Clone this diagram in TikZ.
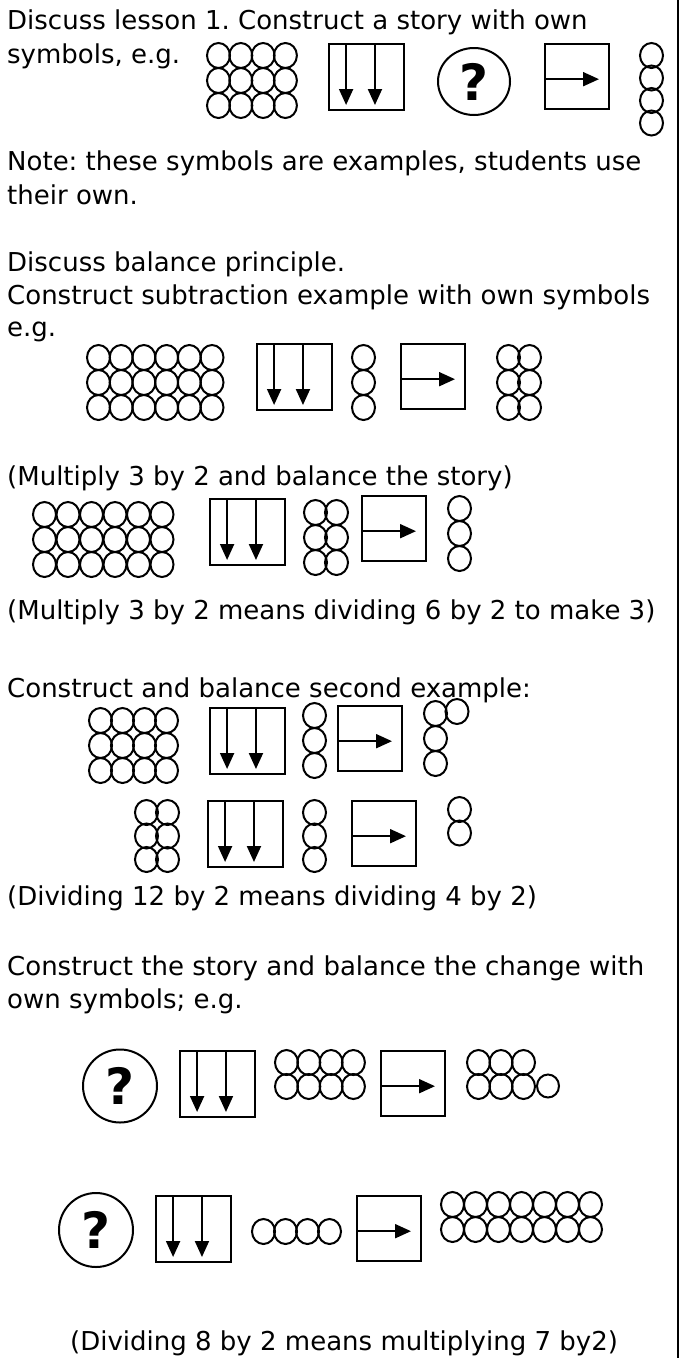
\documentclass[tikz,border=0pt]{standalone}
\usepackage{fontspec}
\setmainfont{DejaVu Sans}
\frenchspacing
\usetikzlibrary{arrows.meta,calc,shapes.geometric}
\tikzset{
  txt/.style={anchor=base west, inner sep=0pt, font=\fontsize{26}{31}\selectfont},
  bead/.style={line width=2pt},
  dbox/.style={draw, line width=2pt, minimum width=75pt, minimum height=66pt, inner sep=0pt, anchor=north west},
  rbox/.style={draw, line width=2pt, minimum width=64pt, minimum height=65pt, inner sep=0pt, anchor=north west},
  qmark/.style={draw, ellipse, line width=2pt, inner sep=0pt, font=\fontsize{50}{50}\selectfont\bfseries},
  arr/.style={line width=2pt, -{Triangle[length=16pt,width=14pt]}},
  border/.style={line width=2pt},
}
\newcommand\beadgrid[6]{%
  \foreach \i in {1,...,#3}{\foreach \j in {1,...,#4}{%
    \draw[bead] ({#1+11.5+(\i-1)*#5},{#2+12.5+(\j-1)*#6}) ellipse[x radius=11.5pt, y radius=12.5pt];}}}
\newcommand\downbox[3]{%
  \node[dbox] (#1) at (#2,#3) {};
  \draw[arr] ($(#1.north west)!0.235!(#1.north east)$) -- ($(#1.south west)!0.235!(#1.south east)+(0,-6)$);
  \draw[arr] ($(#1.north west)!0.61!(#1.north east)$) -- ($(#1.south west)!0.61!(#1.south east)+(0,-6)$);}
\newcommand\rightbox[3]{%
  \node[rbox] (#1) at (#2,#3) {};
  \draw[arr] ($(#1.north west)!0.54!(#1.south west)$) -- ($(#1.north east)!0.54!(#1.south east)+(-11,0)$);}
\begin{document}
\begin{tikzpicture}[x=1pt,y=-1pt]
\useasboundingbox (0,0) rectangle (681,1358);
\fill[white] (0,0) rectangle (681,1358);
\coordinate (bt) at (678,0);
\coordinate (bb) at (678,1358);
\draw[border] (bt) -- (bb);

% texts
\node[txt] (t1) at (7,29) {Discuss lesson 1. Construct a story with own};
\node[txt] (t2) at (7,63) {symbols, e.g.};
\node[txt] (t3) at (7,170) {Note: these symbols are examples, students use};
\node[txt] (t4) at (7,204) {their own.};
\node[txt] (t5) at (7,271) {Discuss balance principle.};
\node[txt] (t6) at (7,304) {Construct subtraction example with own symbols};
\node[txt] (t7) at (7,336) {e.g.};
\node[txt] (t8) at (7,485) {(Multiply 3 by 2 and balance the story)};
\node[txt] (t9) at (7,619) {(Multiply 3 by 2 means dividing 6 by 2 to make 3)};
\node[txt] (t10) at (7,697) {Construct and balance second example:};
\node[txt] (t11) at (7,905) {(Dividing 12 by 2 means dividing 4 by 2)};
\node[txt] (t12) at (7,975) {Construct the story and balance the change with};
\node[txt] (t13) at (7,1008) {own symbols; e.g.};
\node[txt, anchor=base west] (t14) at (70,1350) {(Dividing 8 by 2 means multiplying 7 by2)};

% Row A
\beadgrid{207}{43}{4}{3}{22.3}{25}
\downbox{dA}{328}{43}
\node[qmark, minimum width=72pt, minimum height=67pt] (qA) at (474,81.5) {?};
\rightbox{rA}{544}{43}
\beadgrid{640}{43}{1}{4}{0}{22.5}

% Row B
\beadgrid{87}{345}{6}{3}{22.7}{25}
\downbox{dB}{256}{343}
\beadgrid{352}{345}{1}{3}{0}{25}
\rightbox{rB}{400}{343}
\beadgrid{497}{345}{2}{3}{21}{25}

% Row C
\beadgrid{33}{502}{6}{3}{23.5}{25}
\downbox{dC}{209}{498}
\beadgrid{304}{500}{2}{3}{21}{25}
\rightbox{rC}{361}{495}
\beadgrid{448}{496}{1}{3}{0}{25}

% Row D1
\beadgrid{89}{708}{4}{3}{22}{25}
\downbox{dD}{209}{707}
\beadgrid{303}{703}{1}{3}{0}{25}
\rightbox{rD}{337}{705}
\beadgrid{424}{701}{1}{3}{0}{25}
\draw[bead] (457,711.5) ellipse[x radius=11.5pt, y radius=12.5pt];

% Row D2
\beadgrid{135}{800}{2}{3}{21}{23.5}
\downbox{dE}{207}{800}
\beadgrid{303}{800}{1}{3}{0}{23.5}
\rightbox{rE}{351}{800}
\beadgrid{448}{797}{1}{2}{0}{23.5}

% Row E1
\node[qmark, minimum width=74pt, minimum height=73pt] (qE) at (120,1086) {?};
\downbox{dF}{179}{1050}
\beadgrid{275}{1050}{4}{2}{22.3}{24}
\rightbox{rF}{380}{1050}
\beadgrid{467}{1050}{3}{1}{22.5}{0}
\beadgrid{467}{1074}{3}{1}{22.5}{0}
\draw[bead] (548,1086) ellipse[x radius=11pt, y radius=11.5pt];

% Row E2
\node[qmark, minimum width=74pt, minimum height=74pt] (qG) at (96,1230) {?};
\downbox{dG}{155}{1195}
\beadgrid{252}{1219}{4}{1}{22}{0}
\rightbox{rG}{356}{1195}
\beadgrid{441}{1192}{7}{2}{23}{25}
\end{tikzpicture}
\end{document}
